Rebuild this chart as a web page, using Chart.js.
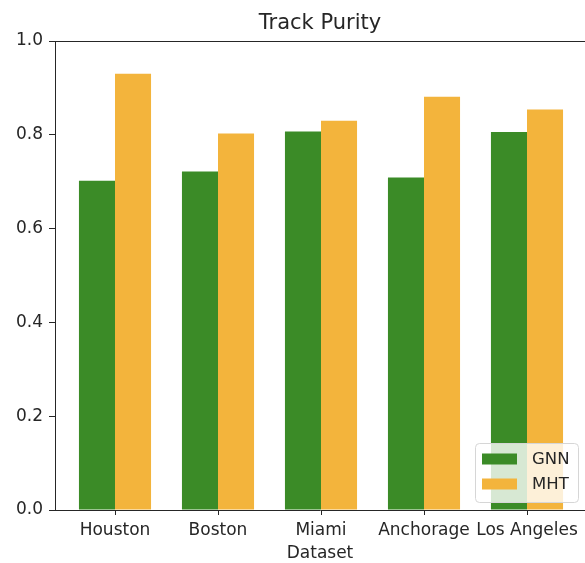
<!DOCTYPE html>
<html>
<head>
<meta charset="utf-8">
<script src="https://cdn.jsdelivr.net/npm/chart.js@4"></script>
<style>
  html, body { margin: 0; padding: 0; background: #fff; }
  #wrap { width: 585px; height: 563px; }
</style>
</head>
<body>
<div id="wrap"><canvas id="c" width="585" height="563"></canvas></div>
<script>
const categories = ['Houston', 'Boston', 'Miami', 'Anchorage', 'Los Angeles'];
const gnnValues = [0.702, 0.722, 0.807, 0.709, 0.806];
const mhtValues = [0.930, 0.803, 0.830, 0.881, 0.854];
const yTicks = [0.0, 0.2, 0.4, 0.6, 0.8, 1.0];
const seriesNames = ['GNN', 'MHT'];
const seriesColors = ['#3b8b27', '#f3b43c'];

const FONT = "'DejaVu Sans', sans-serif";
const INK = '#262626';

const frameTop = {
  id: 'frameTop',
  afterDatasetsDraw(chart) {
    const {ctx, chartArea: a} = chart;
    ctx.save();
    ctx.strokeStyle = INK;
    ctx.lineWidth = 1;
    ctx.beginPath();
    ctx.moveTo(a.left, a.top + 0.5);
    ctx.lineTo(a.right, a.top + 0.5);
    ctx.stroke();
    ctx.restore();
  }
};

const innerLegend = {
  id: 'innerLegend',
  afterDraw(chart) {
    const {ctx, chartArea: a} = chart;
    const w = 103, h = 59;
    const x = a.right - 7 - w, y = a.bottom - 8 - h;
    ctx.save();
    ctx.beginPath();
    ctx.roundRect(x + 0.5, y + 0.5, w, h, 4);
    ctx.fillStyle = 'rgba(255,255,255,0.8)';
    ctx.fill();
    ctx.strokeStyle = '#d6d6d6';
    ctx.lineWidth = 1;
    ctx.stroke();
    ctx.font = '16.5px ' + FONT;
    ctx.textBaseline = 'middle';
    ctx.textAlign = 'left';
    chart.data.datasets.forEach((ds, i) => {
      const cy = y + 16 + i * 25;
      ctx.fillStyle = ds.backgroundColor;
      ctx.fillRect(x + 7, cy - 5.5, 35, 11);
      ctx.fillStyle = INK;
      ctx.fillText(ds.label, x + 57, cy + 1);
    });
    ctx.restore();
  }
};

new Chart(document.getElementById('c'), {
  type: 'bar',
  data: {
    datasets: [
      { label: seriesNames[0], data: gnnValues.map((v, i) => ({x: i, y: v})), backgroundColor: seriesColors[0] },
      { label: seriesNames[1], data: mhtValues.map((v, i) => ({x: i, y: v})), backgroundColor: seriesColors[1] }
    ]
  },
  options: {
    responsive: false,
    animation: false,
    categoryPercentage: 0.7,
    barPercentage: 1.0,
    layout: { padding: { left: 0, right: 0, top: 0, bottom: 0 } },
    plugins: {
      legend: { display: false },
      tooltip: { enabled: false },
      title: {
        display: true,
        text: 'Track Purity',
        fullSize: false,
        color: INK,
        font: { family: FONT, size: 21, weight: 'normal' },
        padding: { top: 11, bottom: 4.8 }
      }
    },
    scales: {
      x: {
        type: 'linear',
        min: -60 / 103,
        max: 4 + 58 / 103,
        bounds: 'data',
        offset: false,
        afterBuildTicks: s => { s.ticks = categories.map((_, i) => ({ value: i })); },
        afterFit: s => { s.height = 53; },
        ticks: {
          autoSkip: false,
          maxRotation: 0,
          padding: 5,
          color: INK,
          font: { family: FONT, size: 17 },
          callback: v => categories[v] ?? ''
        },
        grid: { display: true, offset: false, drawOnChartArea: false, drawTicks: true, tickLength: 5, color: INK },
        border: { display: true, color: INK, width: 1 },
        title: {
          display: true,
          text: 'Dataset',
          color: INK,
          font: { family: FONT, size: 17, lineHeight: 1 },
          padding: { top: 0, bottom: 1 }
        }
      },
      y: {
        min: 0,
        max: 1,
        afterBuildTicks: s => { s.ticks = yTicks.map(v => ({ value: v })); },
        afterFit: s => { s.width = 55; },
        ticks: {
          padding: 6,
          color: INK,
          font: { family: FONT, size: 17 },
          callback: v => Number(v).toFixed(1)
        },
        grid: { display: true, drawOnChartArea: false, drawTicks: true, tickLength: 6, color: INK },
        border: { display: true, color: INK, width: 1 }
      }
    }
  },
  plugins: [frameTop, innerLegend]
});
</script>
</body>
</html>
